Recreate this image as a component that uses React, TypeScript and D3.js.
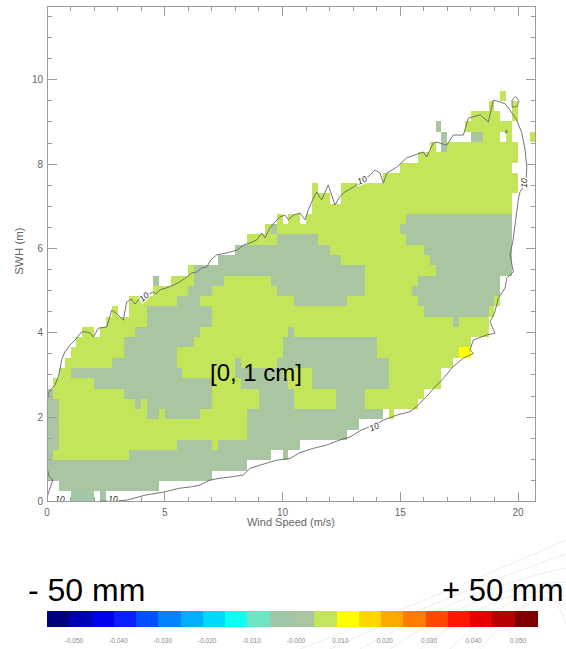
import React from 'react';
import * as d3 from 'd3';

// axes
const windTicks = [0, 5, 10, 15, 20];
const swhTicks = [0, 2, 4, 6, 8, 10];
const windMax = 20.75;
const swhMax = 11.75;
const swhBin = 0.2436;

// colour bar (22 steps)
const barColors = [
  '#000080', '#0000b4', '#0000e8', '#0a1eff', '#0050ff', '#0084ff', '#00aeff', '#00d8ff',
  '#0cfff0', '#6ae6c4', '#a2c6a8', '#aac5a1', '#c3e55a', '#ffff00', '#ffd700', '#ffa800',
  '#ff7c00', '#ff4800', '#ff1800', '#e60000', '#b80000', '#800000',
];
const barValues = [-0.05, -0.04, -0.03, -0.02, -0.01, 0, 0.01, 0.02, 0.03, 0.04, 0.05];
const barLabels = ['-0.050', '-0.040', '-0.030', '-0.020', '-0.010', '-0.000', '0.010', '0.020', '0.030', '0.040', '0.050'];

// cell class -> colour bar step
const classStep: Record<string, number> = { t: 10, s: 11, g: 12, y: 13 };

// one entry per SWH bin, runs of wind speed "from-to class"
const rows = [
  '1-2 t, 2.25-2.5 t',
  '0.5-4.75 s',
  '0-7 s',
  '0-8.5 s',
  '0-0.25 s, 0.25-3.5 g, 3.5-9.5 s, 10-10.25 s',
  '0-0.5 s, 0.5-5.5 g, 5.5-7 s, 7-7.25 g, 7.25-10.75 s',
  '0-0.5 s, 0.5-8.5 g, 8.5-12.75 s',
  '0-0.5 s, 0.5-8.5 g, 8.5-13.25 s',
  '0-0.5 s, 0.5-4.25 g, 4.25-4.75 s, 4.75-5 g, 5-6.5 s, 6.5-8.5 g, 8.5-14.25 s, 14.5-14.75 g',
  '0-0.5 s, 0.5-3.75 g, 3.75-4 s, 4-4.25 g, 4.25-7 s, 7-9 g, 9-10.5 s, 10.5-12.25 g, 12.25-13.5 s, 13.5-15.75 g',
  '0-0.25 s, 0.25-3.25 g, 3.25-7 s, 7-9 g, 9-10.5 s, 10.5-12.25 g, 12.25-13.5 s, 13.5-16 g',
  '0.25-2 g, 2-7 s, 7-8.25 g, 8.25-10.25 s, 10.25-11.25 g, 11.25-14.5 s, 14.5-16.75 g',
  '0.5-1 g, 1-5.75 s, 5.75-8 g, 8-10 s, 10-11.25 g, 11.25-14.5 s, 14.5-16.75 g',
  '0.75-2.75 g, 2.75-5.5 s, 5.5-8 g, 8-8.25 s, 8.25-9.75 g, 9.75-14.5 s, 14.5-17.25 g',
  '1-3.25 g, 3.25-5.5 s, 5.5-10 g, 10-14 s, 14-17.5 g, 17.5-18 y',
  '1.25-3.25 g, 3.25-6.25 s, 6.25-10 g, 10-14 s, 14-18 g',
  '1.5-2 g, 2.25-3.75 g, 3.75-6.5 s, 6.5-10.25 g, 10.25-10.5 s, 10.5-18.75 g',
  '2.5-4.25 g, 4.25-7 s, 7-17.25 g, 17.25-17.5 s, 17.5-18.75 g',
  '2.75-3 g, 3.5-4.25 g, 4.25-7 s, 7-16 g, 16-18.75 s, 18.75-19 g',
  '3.5-5.5 g, 5.5-6.5 s, 6.5-10.5 g, 10.5-12.75 s, 12.75-15.75 g, 15.75-19 s, 19-19.25 g',
  '4.5-6 g, 6-7 s, 7-9.75 g, 9.75-13.5 s, 13.5-15.5 g, 15.5-19.25 s',
  '4.5-4.75 s, 5.25-6.25 g, 6.25-7.5 s, 7.5-9.5 g, 9.5-13.5 s, 13.5-15.75 g, 15.75-19.25 s',
  '6-6.25 g, 6.25-13.5 s, 13.5-16.5 g, 16.5-19.75 s',
  '7.25-12.5 s, 12.5-16.25 g, 16.25-19.75 s',
  '8-12 s, 12-16 g, 16-19.75 s',
  '8.5-9.75 g, 9.75-11.5 s, 11.5-15.25 g, 15.25-19.75 s',
  '9.25-9.5 g, 9.5-9.75 s, 9.75-15 g, 15-19.75 s',
  '9.75-10 g, 10.25-10.75 g, 11-15.25 g, 15.25-19.75 s',
  '11.25-19.75 g',
  '11.25-12 g, 12.5-19.75 g',
  '11.25-11.5 g, 12.5-20 g',
  '14.25-20 g',
  '15-19.75 g',
  '15.75-20 g',
  '16.25-16.5 g, 16.75-17 s, 17-20 g',
  '16.75-17 s, 18-18.5 s, 18.5-19.25 g, 19.5-19.75 g, 20.5-20.75 g',
  '16.5-16.75 s, 17.75-19.75 g',
  '18-19.25 g, 19.75-20 g',
  '18.75-19 g, 19.75-20 g',
  '19.25-19.5 g',
];

// 10-sample contour, [wind, swh]
const contour: [number, number][] = [
  [0.02, 0.13], [0.13, 0.32], [0.25, 0.51], [0.08, 0.6], [0.02, 0.75], [0.02, 2.41], [0.06, 2.57],
  [0.2, 2.68], [0.34, 2.76], [0.48, 2.96], [0.55, 3.12], [0.62, 3.36], [0.76, 3.55], [0.98, 3.71],
  [1.19, 3.83], [1.47, 4.02], [1.66, 4.02], [1.83, 4.0], [1.97, 3.9], [2.18, 4.11], [2.54, 4.14],
  [2.75, 4.54], [2.93, 4.47], [3.24, 4.3], [3.38, 4.73], [3.57, 4.8], [3.74, 4.68], [3.95, 4.83],
  [4.25, 4.9], [4.51, 4.97], [4.63, 4.92], [4.8, 5.02], [5.05, 5.06], [5.36, 5.13], [5.65, 5.21],
  [5.93, 5.32], [6.14, 5.42], [6.36, 5.44], [6.57, 5.54], [6.78, 5.56], [6.96, 5.73], [7.21, 5.85],
  [7.6, 5.89], [8.06, 5.96], [8.34, 6.08], [8.62, 6.13], [8.9, 6.2], [9.12, 6.37], [9.26, 6.25],
  [9.47, 6.49], [9.68, 6.63], [9.89, 6.75], [10.11, 6.79], [10.25, 6.68], [10.46, 6.79], [10.74, 6.84],
  [10.96, 6.68], [11.1, 6.92], [11.24, 7.11], [11.45, 7.34], [11.66, 7.15], [11.94, 7.51], [12.23, 7.03],
  [12.44, 7.24], [12.65, 7.34], [13.01, 7.46], [13.38, 7.6], [13.72, 7.74], [13.93, 7.86], [14.14, 7.79],
  [14.28, 7.55], [14.44, 7.79], [14.85, 7.93], [15.27, 8.15], [15.84, 8.26], [15.97, 8.29], [16.12, 8.17],
  [16.4, 8.5], [16.56, 8.52], [16.97, 8.45], [17.25, 8.69], [17.68, 8.69], [17.89, 9.09], [18.39, 9.17],
  [18.74, 9.0], [18.95, 9.52], [19.24, 9.47], [19.45, 9.43], [19.66, 9.28], [19.94, 9.05], [20.16, 8.74],
  [20.3, 8.34], [20.37, 7.93], [20.34, 7.55], [20.08, 7.34], [20.01, 7.15], [19.94, 6.84], [19.87, 6.56],
  [19.79, 6.2], [19.66, 5.85], [19.8, 5.45], [19.52, 5.29], [19.45, 5.06], [19.16, 4.82], [19.02, 4.5],
  [18.81, 4.26], [19.02, 3.99], [18.67, 3.95], [18.1, 3.83], [17.96, 3.59], [18.1, 3.51], [17.68, 3.4],
  [17.25, 3.2], [16.83, 2.92], [16.48, 2.72], [16.12, 2.49], [15.7, 2.25], [15.41, 2.13], [14.85, 2.05],
  [14.28, 1.93], [13.89, 1.81], [13.36, 1.7], [12.87, 1.53], [12.44, 1.46], [11.88, 1.34], [11.31, 1.26],
  [10.74, 1.16], [10.32, 1.02], [9.75, 0.98], [9.33, 0.91], [8.62, 0.79], [8.34, 0.63], [7.91, 0.59],
  [7.35, 0.55], [6.92, 0.51], [6.5, 0.39], [6.14, 0.35], [5.58, 0.31], [5.01, 0.23], [4.59, 0.19],
  [4.16, 0.15], [3.45, 0.04], [3.17, 0.02], [2.25, 0.01],
];
const contourIslands: [number, number][][] = [
  [[19.75, 9.35], [19.74, 9.52], [19.9, 9.6], [20.04, 9.5], [19.97, 9.37], [19.75, 9.35]],
  [[19.46, 8.74], [19.5, 8.81], [19.56, 8.76], [19.46, 8.74]],
];
// [wind, swh, angle]
const contourLabels: [number, number, number][] = [
  [4.12, 4.85, -40], [13.38, 7.62, -22], [20.25, 7.55, -90], [13.89, 1.77, -25], [2.8, 0.05, 0], [0.55, 0.06, 4],
];

const x = d3.scaleLinear().domain([0, windMax]).range([47, 535.7]);
const y = d3.scaleLinear().domain([0, swhMax]).range([501.5, 6]);

const cells = rows.flatMap((row, j) =>
  row.split(',').map(run => {
    const [range, c] = run.trim().split(' ');
    const [a, b] = range.split('-').map(Number);
    return { j, a, b, c };
  })
);

const line = d3.line<[number, number]>().x(d => x(d[0])).y(d => y(d[1]));

const barX = d3.scaleBand<number>().domain(d3.range(barColors.length)).range([47, 537]);
const barLabelX = d3.scaleLinear().domain([-0.05, 0.05]).range([74, 518]);

const font = "'Liberation Sans', Arial, sans-serif";
const axisColor = '#9c9c9c';

export default function App() {
  const xMinor = d3.range(0, 21, 1);
  const yMinor = d3.range(0, swhMax, 0.5);
  const x0 = x(0), x1 = x(windMax), y0 = y(0), y1 = y(swhMax);

  return (
    <div style={{ position: 'absolute', left: 0, top: 0 }}>
      <svg width={566} height={649} style={{ display: 'block', background: '#fff' }}>
        {/* faint slide background streaks */}
        <g fill="none" stroke="#eeeeee" strokeWidth={1}>
          {[0, 1, 2, 3, 4, 5, 6].map(i => (
            <path key={i} d={`M${300 + i * 30},649 Q${430 + i * 20},${600 - i * 6} 566,${540 + i * 14}`} />
          ))}
        </g>

        {/* cells */}
        <g shapeRendering="crispEdges">
          {cells.map((d, i) => (
            <rect
              key={i}
              x={x(d.a)}
              width={x(d.b) - x(d.a)}
              y={y((d.j + 1) * swhBin)}
              height={y(d.j * swhBin) - y((d.j + 1) * swhBin)}
              fill={barColors[classStep[d.c]]}
            />
          ))}
        </g>

        {/* contour */}
        <path d={line(contour) ?? ''} fill="none" stroke="#666" strokeWidth={0.9} />
        {contourIslands.map((c, i) => (
          <path key={i} d={line(c) ?? ''} fill="none" stroke="#666" strokeWidth={0.8} />
        ))}
        {contourLabels.map(([w, s, a], i) => (
          <text
            key={i}
            transform={`translate(${x(w)},${y(s)}) rotate(${a})`}
            textAnchor="middle"
            dy="0.35em"
            fontSize={8.5}
            fontStyle="italic"
            fontFamily={font}
            fill="#222"
            stroke="#fff"
            strokeWidth={2.5}
            paintOrder="stroke"
          >
            10
          </text>
        ))}

        {/* frame and ticks */}
        <g stroke={axisColor} strokeWidth={1} shapeRendering="crispEdges">
          <rect x={x0} y={y1} width={x1 - x0} height={y0 - y1} fill="none" />
          {xMinor.map(v => {
            const len = windTicks.includes(v) ? 10 : 5;
            return (
              <g key={v}>
                <line x1={x(v)} x2={x(v)} y1={y0} y2={y0 - len} />
                <line x1={x(v)} x2={x(v)} y1={y1} y2={y1 + len} />
              </g>
            );
          })}
          {yMinor.map(v => {
            const len = v % 2 === 0 ? 10 : 5;
            return (
              <g key={v}>
                <line x1={x0} x2={x0 + len} y1={y(v)} y2={y(v)} />
                <line x1={x1} x2={x1 - len} y1={y(v)} y2={y(v)} />
              </g>
            );
          })}
        </g>

        {/* tick labels */}
        <g fontFamily={font} fontSize={10} fill="#666">
          {windTicks.map(v => (
            <text key={v} x={x(v)} y={y0 + 14} textAnchor="middle">{v}</text>
          ))}
          {swhTicks.map(v => (
            <text key={v} x={x0 - 4} y={y(v)} dy="0.35em" textAnchor="end">{v}</text>
          ))}
        </g>
        <text x={291} y={526} textAnchor="middle" fontFamily={font} fontSize={11} fill="#666">
          Wind Speed (m/s)
        </text>
        <text
          transform={`translate(23,251) rotate(-90)`}
          textAnchor="middle"
          fontFamily={font}
          fontSize={11.5}
          fill="#666"
        >
          SWH (m)
        </text>

        {/* annotation */}
        <text x={210} y={381} fontFamily={font} fontSize={24} fill="#000">[0, 1 cm]</text>

        {/* colour bar */}
        <text x={28} y={601} fontFamily={font} fontSize={32} fill="#000">- 50 mm</text>
        <text x={442} y={601} fontFamily={font} fontSize={31} fill="#000">+ 50 mm</text>
        <g shapeRendering="crispEdges">
          {barColors.map((c, i) => (
            <rect key={i} x={barX(i)} y={611} width={barX.bandwidth() + 0.5} height={15.5} fill={c} />
          ))}
        </g>
        <g fontFamily={font} fontSize={6.5} fill="#8a8a8a">
          {barValues.map((v, i) => (
            <text key={i} x={barLabelX(v)} y={643} textAnchor="middle">{barLabels[i]}</text>
          ))}
        </g>
      </svg>
    </div>
  );
}
